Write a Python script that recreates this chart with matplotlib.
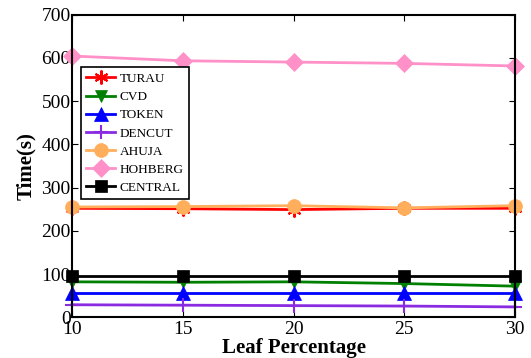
import matplotlib
matplotlib.use("Agg")
import matplotlib.pyplot as plt

plt.rcParams["font.family"] = "Liberation Serif"

leaf_pct = [10, 15, 20, 25, 30]
turau = [252, 251, 249, 252, 252]
cvd = [82, 81, 82, 78, 72]
token = [56, 56, 56, 56, 56]
dencut = [29, 28, 27, 26, 24]
ahuja = [255, 256, 258, 253, 258]
hohberg = [604, 593, 590, 587, 581]
central = [96, 96, 96, 96, 96]

series = [
    ("TURAU", turau, "red", (6, 2, 0), 10),
    ("CVD", cvd, "green", "v", 9),
    ("TOKEN", token, "blue", "^", 10),
    ("DENCUT", dencut, "#8a2be2", "+", 10),
    ("AHUJA", ahuja, "#ffae5c", "o", 10),
    ("HOHBERG", hohberg, "#ff90c8", "D", 9),
    ("CENTRAL", central, "black", "s", 8),
]

fig = plt.figure(figsize=(5.31, 3.58), dpi=100)
ax = fig.add_axes([72 / 531, 1 - 317.3 / 358, 443 / 531, 302.8 / 358])

for name, vals, col, mk, ms in series:
    lined = mk == "+" or isinstance(mk, tuple)
    ax.plot(leaf_pct, vals, color=col, marker=mk, markersize=ms, linewidth=2,
            markeredgewidth=1.5 if lined else 0.5, label=name, clip_on=False)

ax.set_xlim(10, 30)
ax.set_ylim(0, 700)
ax.set_xticks(leaf_pct)
ax.set_yticks(range(0, 701, 100))
ax.tick_params(direction="in", top=True, right=True, labelsize=14, length=4, pad=1)
ax.tick_params(axis="x", pad=3)
for s in ax.spines.values():
    s.set_linewidth(1.5)

ax.set_xlabel("Leaf Percentage", fontsize=15, fontweight="bold", labelpad=0)
ax.set_ylabel("Time(s)", fontsize=15, fontweight="bold", labelpad=4)

leg = ax.legend(loc="upper left", bbox_to_anchor=(0.02, 0.825), fontsize=9.5,
                fancybox=False, framealpha=1, edgecolor="black", handlelength=2.2,
                labelspacing=0.45, borderpad=0.4, handletextpad=0.35,
                borderaxespad=0)
leg.get_frame().set_linewidth(1.2)

fig.savefig("out.png", dpi=100)
